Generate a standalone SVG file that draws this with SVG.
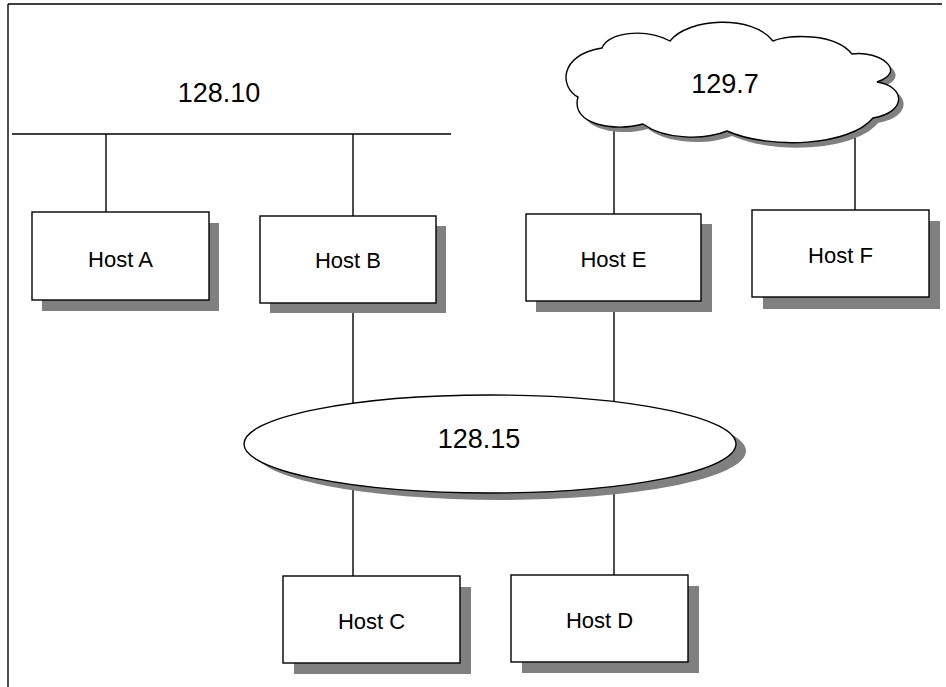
<svg xmlns="http://www.w3.org/2000/svg" width="946" height="687" viewBox="0 0 946 687">
<defs>
<style>
.ln{stroke:#000;stroke-width:1.4;fill:none}
.box{fill:#fff;stroke:#000;stroke-width:1.4}
.sh{fill:#808080;stroke:none}
.host{font-family:"Liberation Sans",Arial,sans-serif;font-size:22px;fill:#000;text-anchor:middle}
.net{font-family:"Liberation Sans",Arial,sans-serif;font-size:27px;fill:#000;text-anchor:middle}
</style>
<path id="cloudShape" d="M602,48 C608,32 645,28 670,41 C688,18 752,14 773,41 C790,34 835,33 852,54 C880,50 908,72 877,82 C905,86 908,112 873,118 C850,146 770,150 727,131 C705,140 665,140 643,124 C615,132 570,125 578,97 C560,88 558,55 602,48 Z"/>
</defs>
<rect x="0" y="0" width="946" height="687" fill="#fff"/>
<g id="frame">
<path class="ln" d="M8,4 H942 M8,4 V687"/>
</g>
<g id="connectors">
<line class="ln" x1="12" y1="134" x2="451" y2="134"/>
<line class="ln" x1="106" y1="134" x2="106" y2="212"/>
<line class="ln" x1="353" y1="134" x2="353" y2="216"/>
<line class="ln" x1="353" y1="303" x2="353" y2="410"/>
<line class="ln" x1="614" y1="301" x2="614" y2="410"/>
<line class="ln" x1="353" y1="480" x2="353" y2="576"/>
<line class="ln" x1="614" y1="480" x2="614" y2="575"/>
<line class="ln" x1="614" y1="115" x2="614" y2="214"/>
<line class="ln" x1="855" y1="115" x2="855" y2="210"/>
</g>
<g id="net-128-10">
<text class="net" x="219" y="102">128.10</text>
</g>
<g id="net-129-7">
<use href="#cloudShape" class="sh" transform="translate(5,5)"/>
<use href="#cloudShape" class="box"/>
<text class="net" x="725" y="93">129.7</text>
</g>
<g id="net-128-15">
<ellipse class="sh" cx="500" cy="451" rx="246" ry="49"/>
<ellipse class="box" cx="490" cy="444" rx="246" ry="49"/>
<text class="net" x="479" y="448">128.15</text>
</g>
<g id="host-a">
<rect class="sh" x="42" y="223" width="177" height="88"/>
<rect class="box" x="32" y="212" width="177" height="88"/>
<text class="host" x="120.5" y="267">Host A</text>
</g>
<g id="host-b">
<rect class="sh" x="270" y="226" width="176" height="87"/>
<rect class="box" x="260" y="216" width="176" height="87"/>
<text class="host" x="348" y="268">Host B</text>
</g>
<g id="host-e">
<rect class="sh" x="536" y="224" width="176" height="88"/>
<rect class="box" x="526" y="214" width="175" height="87"/>
<text class="host" x="613.5" y="267">Host E</text>
</g>
<g id="host-f">
<rect class="sh" x="763" y="221" width="177" height="88"/>
<rect class="box" x="752" y="210" width="177" height="87"/>
<text class="host" x="840.5" y="263">Host F</text>
</g>
<g id="host-c">
<rect class="sh" x="294" y="587" width="177" height="87"/>
<rect class="box" x="283" y="576" width="177" height="87"/>
<text class="host" x="371.5" y="629">Host C</text>
</g>
<g id="host-d">
<rect class="sh" x="522" y="586" width="177" height="87"/>
<rect class="box" x="511" y="575" width="177" height="87"/>
<text class="host" x="599.5" y="628">Host D</text>
</g>
</svg>
